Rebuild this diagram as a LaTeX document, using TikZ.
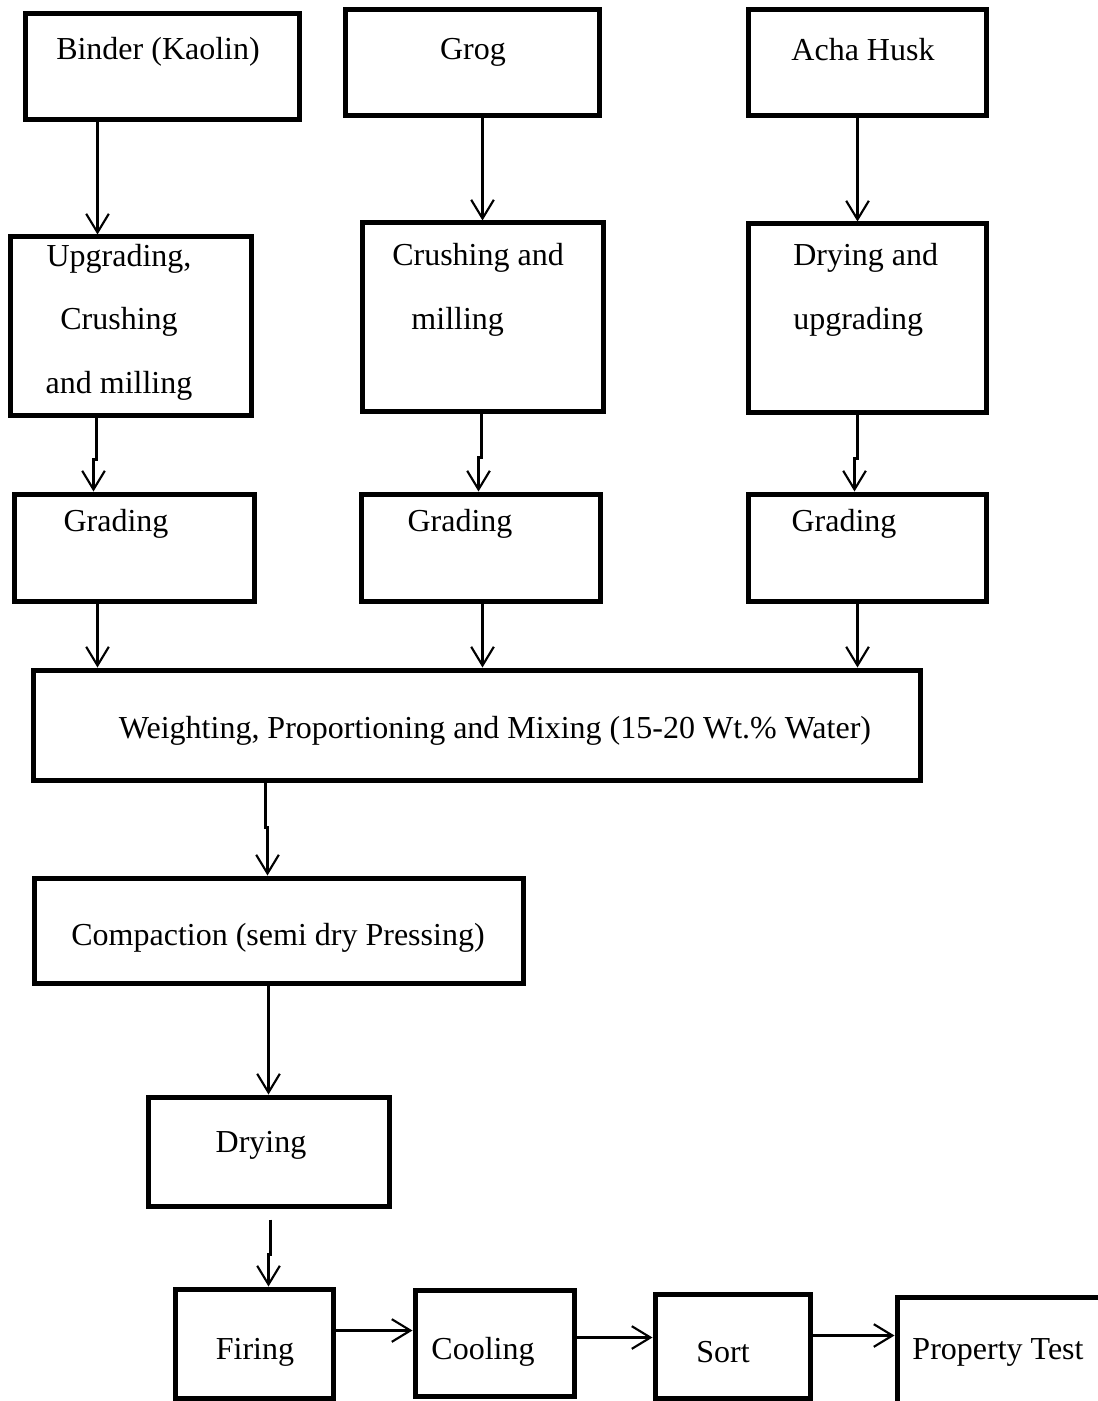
\documentclass[tikz,border=0pt]{standalone}
\usepackage{fontspec}
\setmainfont{Liberation Serif}
\usetikzlibrary{arrows.meta,calc,fit}
\tikzset{>={Straight Barb[length=14pt,width=17pt]},
         box/.style={draw, line width=3.75pt, inner sep=0pt},
         txt/.style={font=\fontsize{24}{47.6}\selectfont, inner sep=0pt},
         arr/.style={->, line width=1.6pt}}

\begin{document}
\begin{tikzpicture}[x=0.75pt, y=-0.75pt]
	\useasboundingbox (0,0) rectangle (1097,1401);
	% raw materials
	\node[box, fit={(25,14) (299,120)}] (binder) {};
	\node[box, fit={(345,10) (599,116)}] (grog) {};
	\node[box, fit={(748,10) (986,116)}] (husk) {};
	\node[txt] (binder-t) at (158,52) {Binder (Kaolin)};
	\node[txt] (grog-t) at (473,52) {Grog};
	\node[txt] (husk-t) at (863,50) {Acha Husk};
	% preparation
	\node[box, fit={(10,237) (251,415)}] (upg) {};
	\node[box, fit={(362,223) (603,411)}] (crush) {};
	\node[box, fit={(748,224) (986,412)}] (dryup) {};
	\node[txt, align=center] (upg-t) at (119,322) {Upgrading,\\Crushing\\and milling};
	\node[txt, align=left, anchor=west] (crush-t) at (392,290) {Crushing and\\\hspace*{0.6em}milling};
	\node[txt, align=left, anchor=west] (dryup-t) at (793,290) {Drying and\\upgrading};
	% grading
	\node[box, fit={(14,494) (254,601)}] (gradeA) {};
	\node[box, fit={(361,494) (600,601)}] (gradeB) {};
	\node[box, fit={(748,494) (986,601)}] (gradeC) {};
	\node[txt] (gradeA-t) at (116,524) {Grading};
	\node[txt] (gradeB-t) at (460,524) {Grading};
	\node[txt] (gradeC-t) at (844,524) {Grading};
	% mixing and forming
	\node[box, fit={(33,670) (920,780)}] (mix) {};
	\node[txt] (mix-t) at (495,731) {Weighting, Proportioning and Mixing (15-20 Wt.\% Water)};
	\node[box, fit={(34,878) (523,983)}] (compact) {};
	\node[txt] (compact-t) at (278,938) {Compaction (semi dry Pressing)};
	\node[box, fit={(148,1097) (389,1206)}] (drying) {};
	\node[txt] (drying-t) at (261,1145) {Drying};
	% firing line
	\node[box, fit={(175,1289) (333,1398)}] (firing) {};
	\node[box, fit={(415,1290) (574,1396)}] (cooling) {};
	\node[box, fit={(655,1294) (810,1398)}] (sort) {};
	\node[box, fit={(897,1297) (1140,1440)}] (test) {};
	\node[txt] (firing-t) at (255,1352) {Firing};
	\node[txt] (cooling-t) at (483,1352) {Cooling};
	\node[txt] (sort-t) at (723,1352) {Sort};
	\node[txt] (test-t) at (998,1352) {Property Test};

	\draw[arr] ($(binder.south west)+(75,0)$) coordinate (a1) -- (a1 |- upg.north);
	\draw[arr] ($(grog.south west)+(140,0)$) coordinate (a2) -- (a2 |- crush.north);
	\draw[arr] ($(husk.south west)+(112,0)$) coordinate (a3) -- (a3 |- dryup.north);
	\draw[arr] ($(upg.south west)+(89,0)$) coordinate (a4) -- ++(0,42) -- ++(-3,0) coordinate (b4) -- (b4 |- gradeA.north);
	\draw[arr] ($(crush.south west)+(122,0)$) coordinate (a5) -- ++(0,44) -- ++(-3,0) coordinate (b5) -- (b5 |- gradeB.north);
	\draw[arr] ($(dryup.south west)+(112,0)$) coordinate (a6) -- ++(0,44) -- ++(-3,0) coordinate (b6) -- (b6 |- gradeC.north);
	\draw[arr] ($(gradeA.south west)+(86,0)$) coordinate (a7) -- (a7 |- mix.north);
	\draw[arr] ($(gradeB.south west)+(124,0)$) coordinate (a8) -- (a8 |- mix.north);
	\draw[arr] ($(gradeC.south west)+(112,0)$) coordinate (a9) -- (a9 |- mix.north);
	\draw[arr] ($(mix.south west)+(235,0)$) coordinate (a10) -- ++(0,45) -- ++(2,0) coordinate (b10) -- (b10 |- compact.north);
	\draw[arr] ($(compact.south west)+(237,0)$) coordinate (a11) -- (a11 |- drying.north);
	\draw[arr] ($(drying.south west)+(125,11)$) coordinate (a12) -- ++(0,35) -- ++(-2,0) coordinate (b12) -- (b12 |- firing.north);
	\draw[arr] ($(firing.north east)+(0,44)$) coordinate (h1) -- (h1 -| cooling.west);
	\draw[arr] ($(cooling.north east)+(0,50)$) coordinate (h2) -- (h2 -| sort.west);
	\draw[arr] ($(sort.north east)+(0,44)$) coordinate (h3) -- (h3 -| test.west);
\end{tikzpicture}
\end{document}
